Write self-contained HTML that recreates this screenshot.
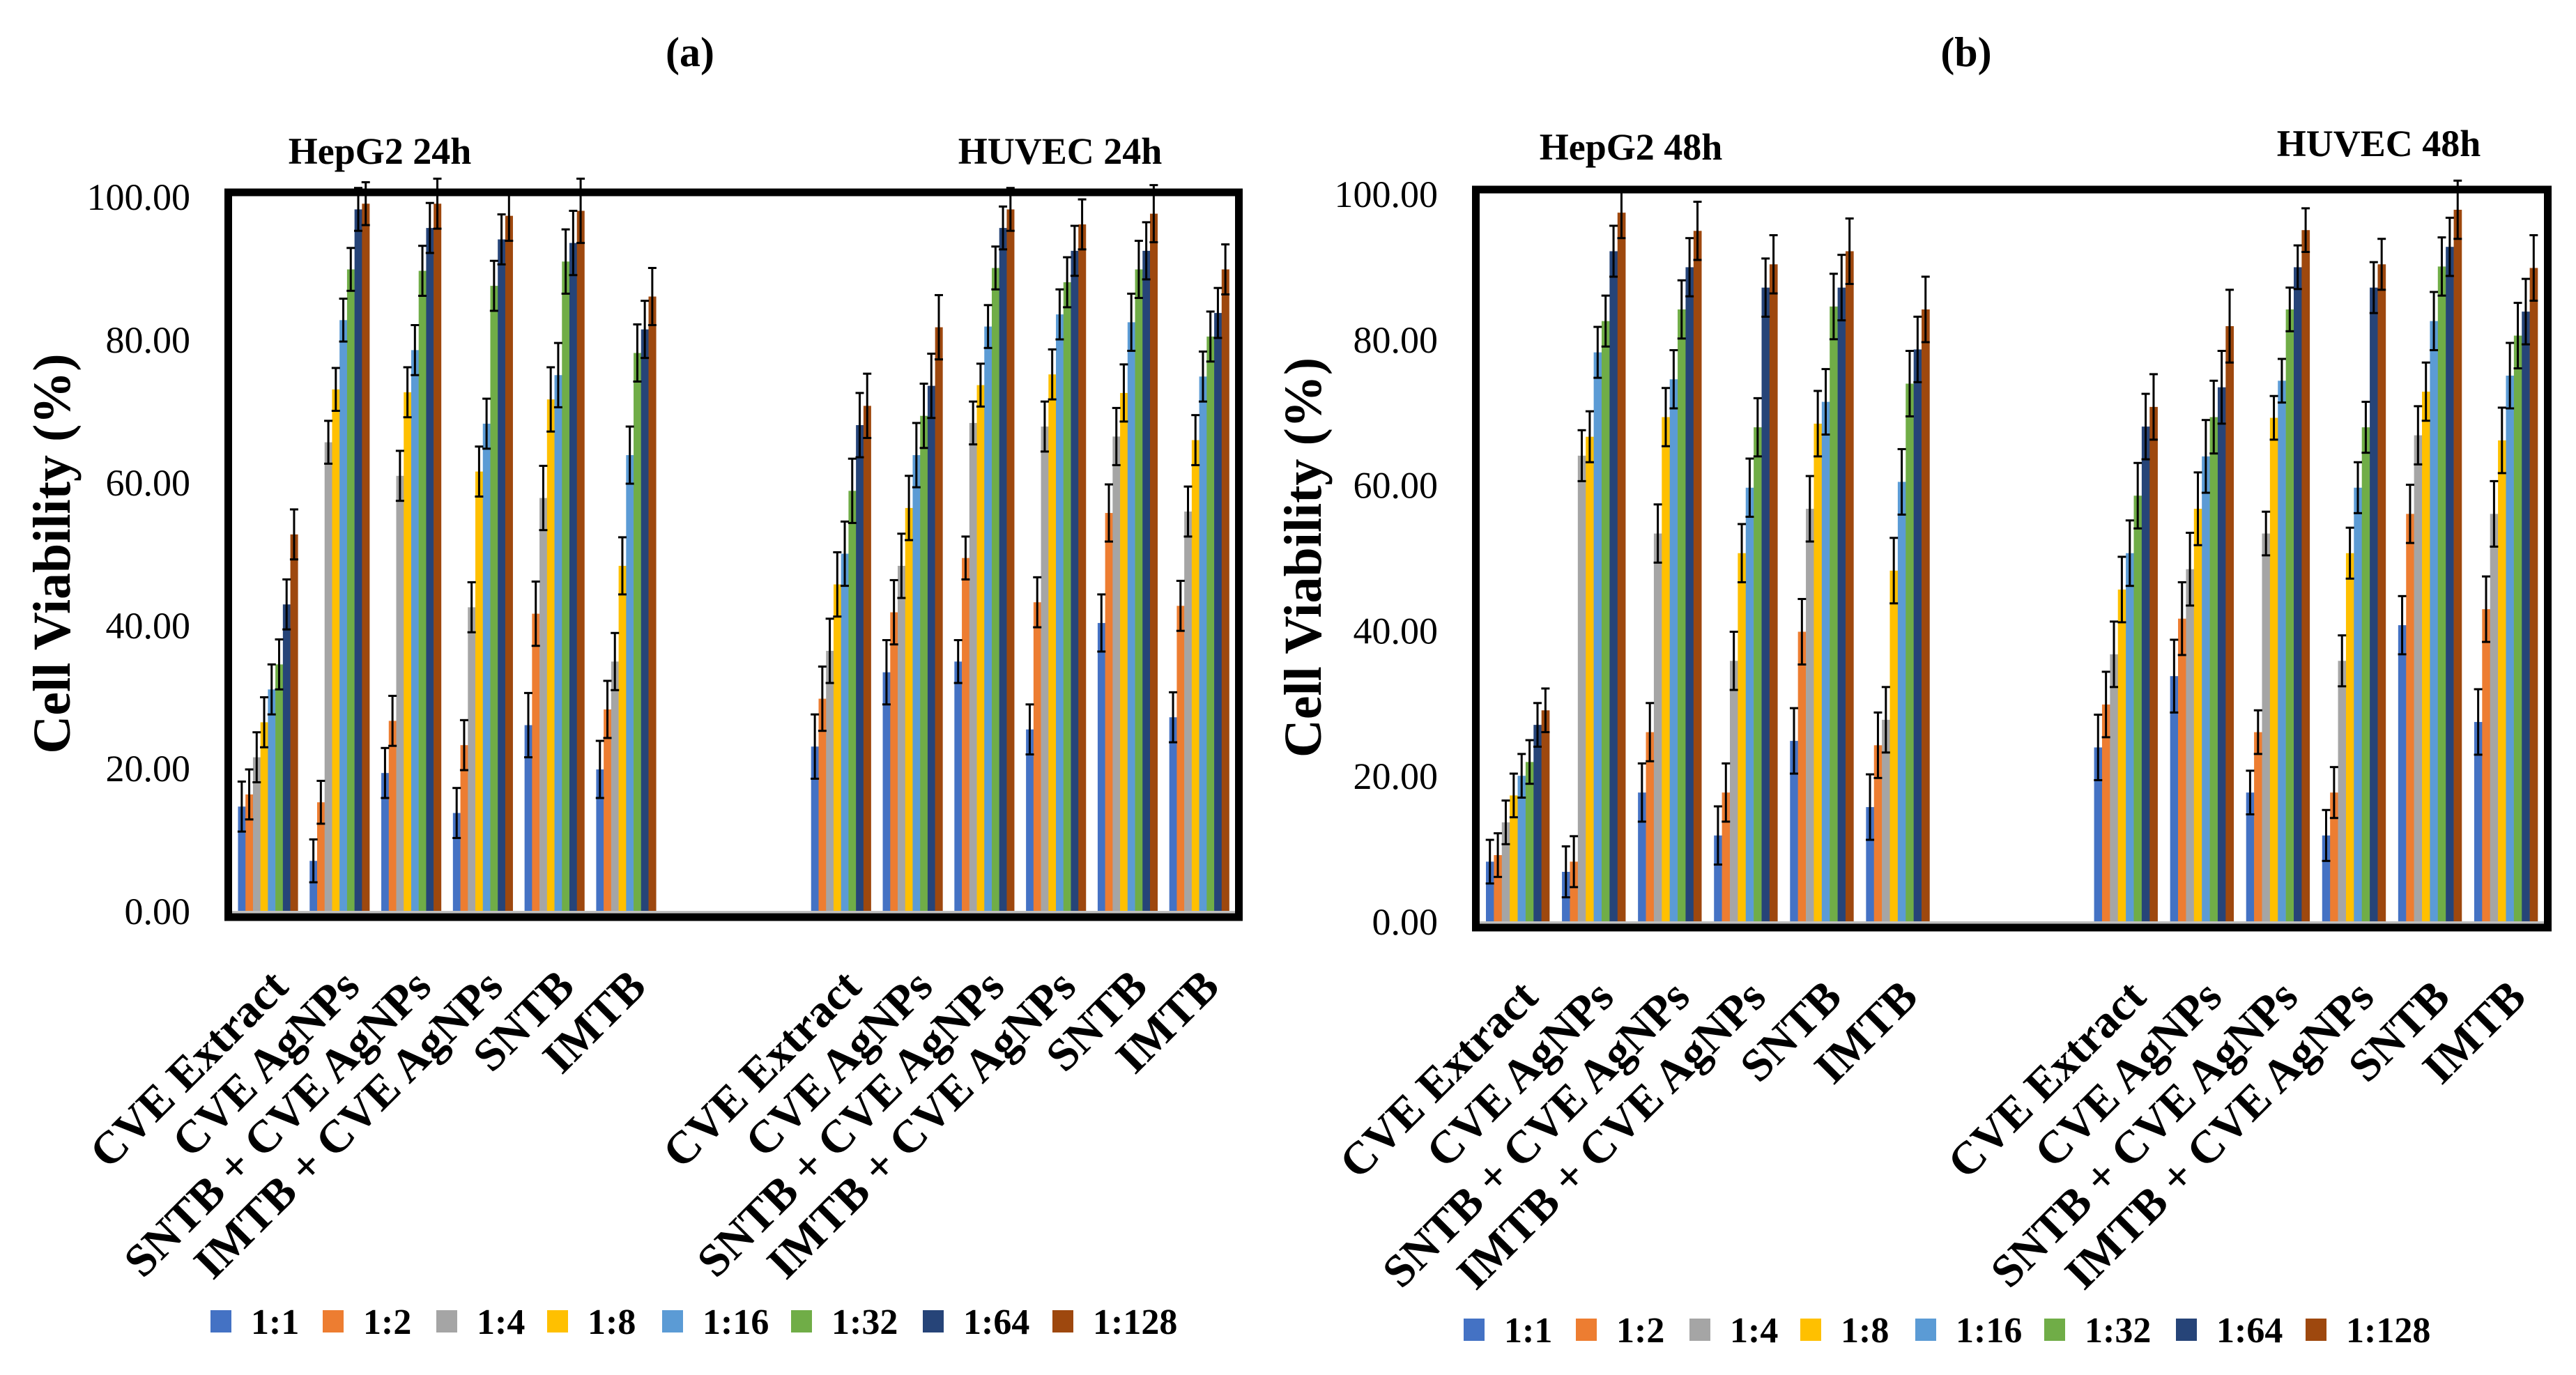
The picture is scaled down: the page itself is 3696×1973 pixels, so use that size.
<!DOCTYPE html>
<html><head><meta charset="utf-8"><style>
html,body{margin:0;padding:0;background:#fff;}
svg{display:block;}
text{font-family:"Liberation Serif",serif;fill:#000;}
</style></head><body>
<svg id="fig" width="3696" height="1973" viewBox="0 0 3696 1973" xmlns="http://www.w3.org/2000/svg">
<text x="990" y="95" font-size="60" font-weight="bold" text-anchor="middle">(a)</text>
<text x="2821" y="95" font-size="60" font-weight="bold" text-anchor="middle">(b)</text>
<g id="chartA"></g>
<g id="chartB"></g>
</svg>
<script>
const seriesNames = ["1:1","1:2","1:4","1:8","1:16","1:32","1:64","1:128"];
const seriesColors = ["#4472C4","#ED7D31","#A5A5A5","#FFC000","#5B9BD5","#70AD47","#264478","#9E480E"];
const categories = ["CVE Extract","CVE AgNPs","SNTB + CVE AgNPs","IMTB + CVE AgNPs","SNTB","IMTB"];
const yTicks = [0,20,40,60,80,100];
const yTickLabels = ["0.00","20.00","40.00","60.00","80.00","100.00"];
// chart a (24h): first 6 = HepG2, last 6 = HUVEC
const a11 = [14.6,7,19.3,13.7,26,19.8, 23,33.4,34.9,25.4,40.3,27.1];
const a12 = [16.3,15.2,26.6,23.2,41.6,28.2, 29.7,41.8,49.4,43.2,55.7,42.7];
const a14 = [21.5,65.6,60.9,42.5,57.8,34.9, 36.4,48.3,68.3,67.8,66.4,55.9];
const a18 = [26.4,73,72.6,61.5,71.6,48.3, 45.7,56.4,73.6,75.1,72.5,65.9];
const a116 = [31,82.7,78.5,68.2,75,63.8, 50,63.8,81.8,83.5,82.4,74.8];
const a132 = [34.5,89.8,89.6,87.5,90.9,78.1, 58.8,69.3,90,88,89.8,80.4];
const a164 = [42.9,98.2,95.6,94,93.5,81.4, 68,73.5,95.6,92.4,92.4,83.7];
const a1128 = [52.7,99,99,97.3,98,86, 70.7,81.7,98.2,96.1,97.6,89.8];
const aErr = [3.5,3,3.5,3.5,4.5,4,4.5,4.5,3,3.5,4,3.5];
// chart b (48h)
const b11 = [8.2,6.8,17.7,11.8,24.8,15.7, 23.9,33.7,17.7,11.8,40.7,27.4];
const b12 = [9.1,8.2,26,17.7,39.8,24.2, 29.8,41.6,26,17.7,56,42.9];
const b14 = [13.6,64,53.3,35.8,56.7,27.7, 36.7,48.4,53.3,35.8,66.8,56];
const b18 = [17.3,66.6,69.3,50.6,68.4,48.2, 45.6,56.7,69.2,50.6,72.8,66.1];
const b116 = [20,78.2,74.5,59.6,71.4,60.4, 50.6,63.9,74.3,59.6,82.5,75];
const b132 = [21.9,82.5,84.1,67.9,84.5,73.9, 58.5,69.3,84.1,67.9,90,80.5];
const b164 = [27,92.1,89.9,87.1,87.1,78.6, 68,73.4,89.9,87.1,92.7,83.8];
const b1128 = [29,97.4,94.9,90.3,92.1,84.1, 70.7,81.8,95,90.3,97.8,89.8];
const bErr = [3,3.5,4,4,4.5,4.5,4.5,5,3,3.5,4,4.5];
const slotIndex = [0,1,2,3,4,5,8,9,10,11,12,13];

const NS = "http://www.w3.org/2000/svg";
function mk(parent, tag, attrs, txt){
  const e = document.createElementNS(NS, tag);
  for (const k in attrs) e.setAttribute(k, attrs[k]);
  if (txt !== undefined) e.textContent = txt;
  parent.appendChild(e);
  return e;
}

function drawChart(g, cfg, data, errs, key){
  const x0 = cfg.x0, x1 = cfg.x1, y0 = cfg.y0, y100 = cfg.y100;
  const slot = (x1 - x0) / 14;
  const yScale = v => y0 - v / 100 * (y0 - y100);
  const xSlot = i => x0 + slot * i;
  const bw = slot * 0.835 / 8;
  yTicks.forEach((t, i) => {
    const tl = mk(g, "text", {x: cfg.tickX, y: yScale(t) + 19, "font-size": 54, "text-anchor": "end"}, yTickLabels[i]);
    
    
  });
  const at = mk(g, "text", {x: 0, y: 0, "font-size": 76, "font-weight": "bold", "text-anchor": "middle", transform: `translate(${cfg.titleX},${(y0 + y100) / 2}) rotate(-90)`}, "Cell Viability (%)");
  
  
  data.forEach((ser, s) => {
    ser.forEach((v, i) => {
      const sx = xSlot(slotIndex[i]) + (slot - bw * 8) / 2 + bw * s;
      const r = mk(g, "rect", {x: sx, y: yScale(v), width: bw + 0.3, height: y0 - yScale(v), fill: seriesColors[s]});
      
      
    });
  });
  data.forEach((ser, s) => {
    ser.forEach((v, i) => {
      const cx = xSlot(slotIndex[i]) + (slot - bw * 8) / 2 + bw * s + bw / 2;
      const e = errs[i];
      const eg = mk(g, "g", {stroke: "#000", "stroke-width": 3});
      
      
      const top = Math.max(yScale(v + e), y100 - 60);
      mk(eg, "line", {x1: cx, x2: cx, y1: yScale(v - e), y2: top});
      mk(eg, "line", {x1: cx - 6, x2: cx + 6, y1: yScale(v - e), y2: yScale(v - e)});
      mk(eg, "line", {x1: cx - 6, x2: cx + 6, y1: top, y2: top});
    });
  });
  const bl = mk(g, "line", {x1: x0, x2: x1, y1: y0 + 2, y2: y0 + 2, stroke: "#BFBFBF", "stroke-width": 4});
  
  
  const fr = mk(g, "rect", {x: x0 - 5.5, y: y100 - 6, width: x1 - x0 + 11, height: y0 - y100 + 15, fill: "none", stroke: "#000", "stroke-width": 11});
  
  
  const s1 = mk(g, "text", {x: cfg.sub1X, y: cfg.sub1Y, "font-size": 54, "font-weight": "bold", "text-anchor": "middle"}, cfg.sub1);
  
  
  const s2 = mk(g, "text", {x: cfg.sub2X, y: cfg.sub2Y, "font-size": 54, "font-weight": "bold", "text-anchor": "middle"}, cfg.sub2);
  
  
  slotIndex.forEach((si, i) => {
    const cx = xSlot(si) + slot / 2;
    const lx = cx + 32, ly = y0 + 112;
    const t = mk(g, "text", {x: 0, y: 0, "font-size": 66, "font-weight": "bold", "text-anchor": "end", transform: `translate(${lx},${ly}) rotate(-45)`}, categories[i % 6]);
    
    
  });
  const lg = mk(g, "g", {});
  
  
  cfg.legendX.forEach((lx, s) => {
    const le = mk(lg, "g", {});
    
    
    mk(le, "rect", {x: lx, y: cfg.legendY, width: 30, height: 32, fill: seriesColors[s]});
    mk(le, "text", {x: lx + 58, y: cfg.legendY + 34, "font-size": 52, "font-weight": "bold"}, seriesNames[s]);
  });
}

const legendA = [302,463,626,785,950,1135,1324,1510];
const legendB = [2100,2261,2424,2583,2748,2933,3122,3308];

drawChart(document.getElementById("chartA"),
  {x0:333, x1:1772, y0:1307, y100:282, tickX:273, titleX:100, sub1:"HepG2 24h", sub1X:545, sub1Y:235, sub2:"HUVEC 24h", sub2X:1521, sub2Y:235, legendX:legendA, legendY:1880},
  [a11,a12,a14,a18,a116,a132,a164,a1128], aErr, "a");
drawChart(document.getElementById("chartB"),
  {x0:2123, x1:3650, y0:1322, y100:278, tickX:2063, titleX:1895, sub1:"HepG2 48h", sub1X:2340, sub1Y:229, sub2:"HUVEC 48h", sub2X:3413, sub2Y:224, legendX:legendB, legendY:1892},
  [b11,b12,b14,b18,b116,b132,b164,b1128], bErr, "b");
</script>
</body></html>
